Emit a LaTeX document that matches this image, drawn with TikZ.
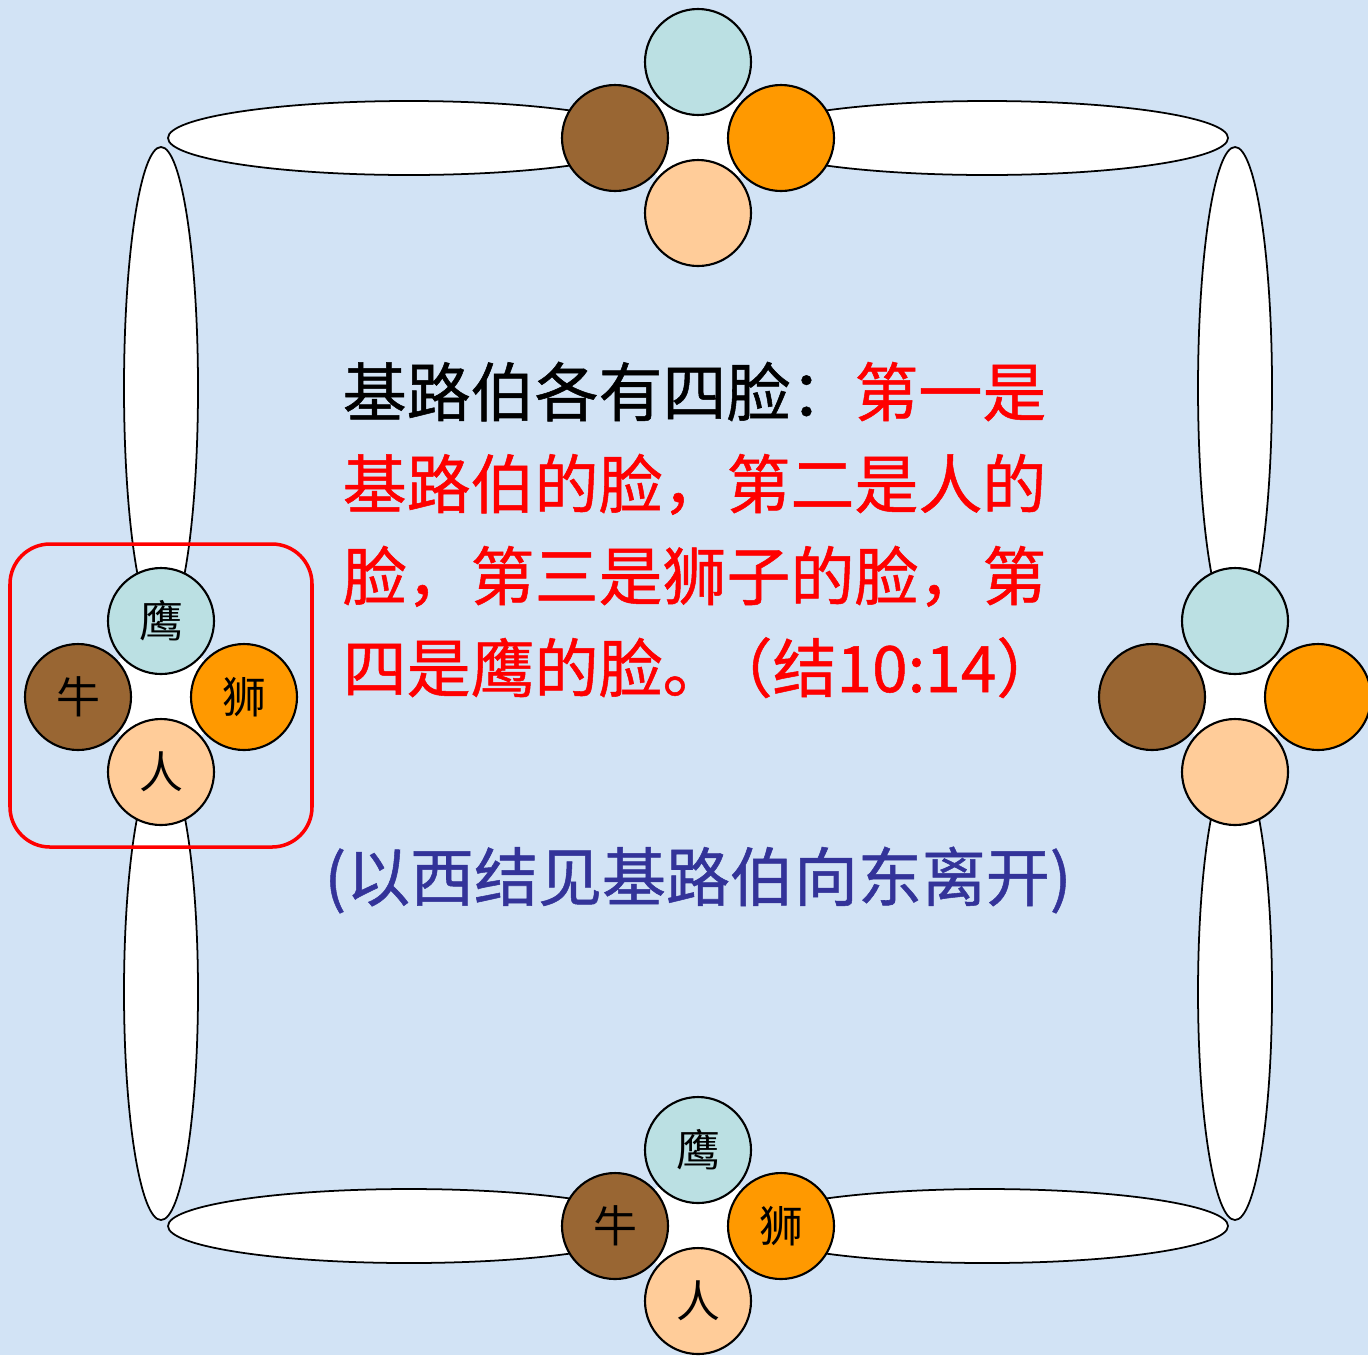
\documentclass[tikz,border=0pt]{standalone}
\usepackage{fontspec}
\setmainfont{Noto Sans CJK SC}
\newfontfamily\versefont{Noto Sans CJK SC}[FakeBold=0.8]
\definecolor{paper}{HTML}{D2E3F5}
\definecolor{eagle}{HTML}{BBE0E3}
\definecolor{ox}{HTML}{996633}
\definecolor{lion}{HTML}{FF9900}
\definecolor{man}{HTML}{FFCC99}
\definecolor{exitblue}{HTML}{333399}
\usetikzlibrary{positioning}
\tikzset{
  face/.style={circle,draw=black,line width=0.6pt,minimum size=10.6mm,inner sep=0pt,
               font=\fontsize{12.5pt}{14pt}\selectfont},
  wing/.style={draw=black,fill=white,line width=0.5pt},
  hub/.style={fill=white},
  verse/.style={inner sep=0pt,font=\versefont\fontsize{18.2pt}{26pt}\selectfont},
  hilite/.style={draw=red,line width=1pt,rounded corners=4mm}
}

\begin{document}
\begin{tikzpicture}[x=0.1mm,y=-0.1mm]
  \useasboundingbox (0,0) rectangle (1368,1355);
  \fill[paper] (0,0) rectangle (1368,1355);
  % wings
  \draw[wing] (409,138) ellipse [x radius=241,y radius=37];
  \draw[wing] (987,138) ellipse [x radius=241,y radius=37];
  \draw[wing] (409,1226) ellipse [x radius=241,y radius=37];
  \draw[wing] (987,1226) ellipse [x radius=241,y radius=37];
  \draw[wing] (161,388) ellipse [x radius=37,y radius=241];
  \draw[wing] (161,992) ellipse [x radius=37,y radius=228];
  \draw[wing] (1235,388) ellipse [x radius=37,y radius=241];
  \draw[wing] (1235,992) ellipse [x radius=37,y radius=228];
  % four faces of each cherub
  \foreach \n/\cx/\cy/\ea/\ob/\li/\mn in {top/698/138/{}/{}/{}/{},
      left/161/697/鹰/牛/狮/人, right/1235/697/{}/{}/{}/{},
      bottom/698/1226/鹰/牛/狮/人}{
    \fill[hub] (\cx,\cy-76) -- (\cx-83,\cy) -- (\cx,\cy+75) -- (\cx+83,\cy) -- cycle;
    \node[face,fill=eagle] (\n-eagle) at (\cx,\cy-76) {\ea};
    \node[face,fill=ox] (\n-ox) at (\cx-83,\cy) {\ob};
    \node[face,fill=lion] (\n-lion) at (\cx+83,\cy) {\li};
    \node[face,fill=man] (\n-man) at (\cx,\cy+75) {\mn};
  }
  \draw[hilite] (10,544) rectangle (312,847);
  % text
  \node[verse,anchor=base west] (v1) at (342,416) {基路伯各有四脸：\textcolor{red}{第一是}};
  \node[verse,anchor=base west,text=red] (v2) at ([yshift=-9.2mm]v1.base west) {基路伯的脸，第二是人的};
  \node[verse,anchor=base west,text=red] (v3) at ([yshift=-9.2mm]v2.base west) {脸，第三是狮子的脸，第};
  \node[verse,anchor=base west,text=red] (v4) at ([yshift=-9.2mm]v3.base west) {四是鹰的脸。\kern-0.28em（结10:14）};
  \node[verse,text=exitblue] (exit) at (698,880) {(以西结见基路伯向东离开)};
\end{tikzpicture}
\end{document}
